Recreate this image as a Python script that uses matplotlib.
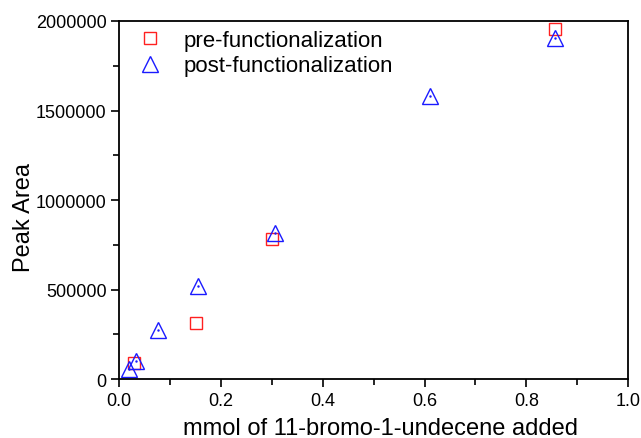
import matplotlib.pyplot as plt
from matplotlib.ticker import MultipleLocator, FormatStrFormatter

plt.rcParams['font.family'] = ['Liberation Sans', 'DejaVu Sans']

# data
pre_x = [0.030, 0.151, 0.300, 0.857]
pre_y = [88000, 313000, 782000, 1955000]

post_x = [0.019, 0.032, 0.077, 0.154, 0.306, 0.611, 0.857]
post_y = [56000, 102000, 275000, 518000, 815000, 1580000, 1905000]

fig = plt.figure(figsize=(6.41, 4.39), dpi=100)
ax = fig.add_axes([0.186, 0.134, 0.794, 0.816])

ax.plot(pre_x, pre_y, 's', ms=9, mfc='none', mec='#ff2020', mew=1.0,
        label='pre-functionalization', clip_on=False)
ax.plot(post_x, post_y, '^', ms=11, mfc='none', mec='#1a1aff', mew=1.0,
        label='post-functionalization', clip_on=False)
# small dot at the centre of each triangle
ax.plot(post_x, post_y, '.', ms=1.5, color='#1a1aff', clip_on=False)

ax.set_xlim(0, 1.0)
ax.set_ylim(0, 2000000)
ax.xaxis.set_major_locator(MultipleLocator(0.2))
ax.xaxis.set_minor_locator(MultipleLocator(0.1))
ax.yaxis.set_major_locator(MultipleLocator(500000))
ax.yaxis.set_minor_locator(MultipleLocator(250000))
ax.xaxis.set_major_formatter(FormatStrFormatter('%.1f'))
ax.yaxis.set_major_formatter(FormatStrFormatter('%d'))
ax.tick_params(which='both', direction='out', top=False, right=False,
               labelsize=13, width=1.2, pad=3)
ax.tick_params(which='major', length=6)
ax.tick_params(which='minor', length=4)
for s in ax.spines.values():
    s.set_linewidth(1.3)

ax.set_xlabel('mmol of 11-bromo-1-undecene added', fontsize=17)
ax.set_ylabel('Peak Area', fontsize=17)
ax.xaxis.set_label_coords(0.513, -0.105)
ax.yaxis.set_label_coords(-0.165, 0.455)

ax.legend(loc='upper left', frameon=False, fontsize=16, handletextpad=0.5,
          borderaxespad=0.1, labelspacing=0.2, borderpad=0.3)

plt.savefig('out.png', dpi=100)
